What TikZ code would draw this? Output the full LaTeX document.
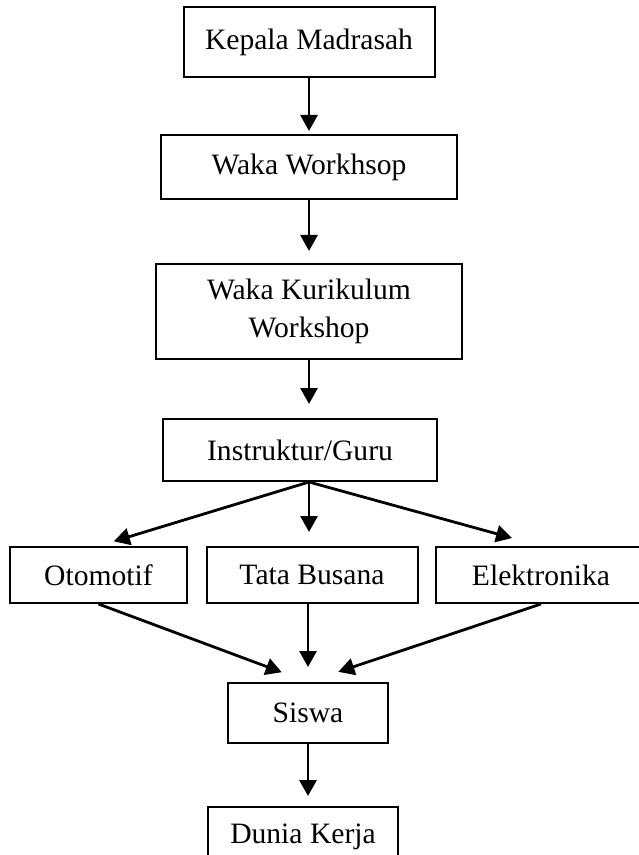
\documentclass[tikz,border=0pt]{standalone}
\usepackage{fontspec}
\setmainfont{Liberation Serif}
\usetikzlibrary{arrows.meta}

\begin{document}
\begin{tikzpicture}[x=0.5pt,y=-0.5pt]
        \tikzstyle{every node}=[draw,line width=1pt,inner sep=0pt,align=center,font=\fontsize{14.8}{19}\selectfont]
        \tikzstyle{arr}=[line width=1.4pt,-{Triangle[length=8pt,width=8.5pt]}]
        \useasboundingbox (0,0) rectangle (638,855);

            \node[minimum width=125.5pt,minimum height=35pt] (kepala) at (309,42) {Kepala Madrasah};
            \node[minimum width=148pt,minimum height=32pt] (wakaws) at (309,167) {Waka Workhsop};
            \node[minimum width=153pt,minimum height=47.5pt] (wakakur) at (309,311.5) {Waka Kurikulum\\Workshop};
            \node[minimum width=137pt,minimum height=31pt] (instruktur) at (300,450) {Instruktur/Guru};

            \node[minimum width=88.5pt,minimum height=28pt] (otomotif) at (98.5,575) {Otomotif};
            \node[minimum width=105.5pt,minimum height=28pt] (tatabusana) at (312,575) {Tata Busana};
            \node[minimum width=105pt,minimum height=28pt] (elektronika) at (541,575) {Elektronika};

            \node[minimum width=80pt,minimum height=30pt] (siswa) at (308,713) {Siswa};
            \node[minimum width=95pt,minimum height=30pt] (dunia) at (303,837) {Dunia Kerja};

            \coordinate (fork) at (wakakur.south |- instruktur.south);

            \draw[arr,shorten >=1.5pt] (kepala) -- (wakaws);
            \draw[arr,shorten >=6pt] (wakaws) -- (wakakur);
            \draw[arr,shorten >=7pt] (wakakur) -- (wakakur.south |- instruktur.north);

            \draw[arr,shorten >=8pt] (fork) -- (otomotif.north);
            \draw[arr,shorten >=7pt] (fork) -- (fork |- tatabusana.north);
            \draw[arr,shorten >=15pt] (fork) -- (elektronika.north);

            \draw[arr,shorten >=14pt] (otomotif.south) -- (siswa.north);
            \draw[arr,shorten >=7.5pt] (siswa |- tatabusana.south) -- (siswa.north);
            \draw[arr,shorten >=16pt] (elektronika.south) -- (siswa.north);

            \draw[arr,shorten >=5pt] (siswa) -- (siswa |- dunia.north);

        \end{tikzpicture}
\end{document}
